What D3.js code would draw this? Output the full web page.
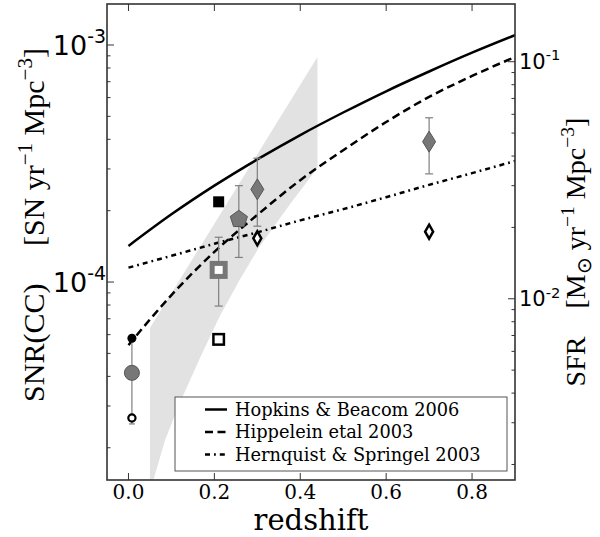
<!DOCTYPE html>
<html>
<head>
<meta charset="utf-8">
<script src="https://cdn.jsdelivr.net/npm/d3@7"></script>
<style>
  body { margin: 0; background: #fff; }
  svg { display: block; }
</style>
</head>
<body>
<svg id="chart" width="600" height="537"></svg>
<script>
// ---- model curves: core-collapse SN rate [SN / yr / Mpc^3] on a redshift grid ----
const redshiftGrid   = [0.0, 0.1, 0.2, 0.3, 0.4, 0.5, 0.6, 0.7, 0.8, 0.9];
const hopkinsBeacom  = [1.42e-4, 1.93e-4, 2.55e-4, 3.29e-4, 4.17e-4, 5.19e-4, 6.38e-4, 7.73e-4, 9.28e-4, 1.10e-3];
const hippelein      = [5.42e-5, 8.81e-5, 1.34e-4, 1.92e-4, 2.69e-4, 3.60e-4, 4.73e-4, 6.04e-4, 7.40e-4, 8.90e-4];
const hernquistSpr   = [1.15e-4, 1.29e-4, 1.45e-4, 1.62e-4, 1.82e-4, 2.03e-4, 2.28e-4, 2.57e-4, 2.88e-4, 3.24e-4];

// ---- shaded allowed region ----
const bandUpperZ = [0.05, 0.44];
const bandUpper  = [6.4e-5, 8.9e-4];
const bandLowerZ = [0.05, 0.058, 0.085, 0.12, 0.167, 0.213, 0.26, 0.306, 0.376, 0.44];
const bandLower  = [1.0e-5, 1.46e-5, 2.15e-5, 3.1e-5, 4.8e-5, 7.2e-5, 1.03e-4, 1.42e-4, 2.13e-4, 3.03e-4];

// ---- measurements ----
const localZ        = [0.008];
const localUpper    = [5.79e-5];   // filled circle
const localMid      = [4.14e-5];   // grey circle
const localLower    = [2.67e-5];   // open circle
const localErrLo    = [2.52e-5];

const squareZ       = [0.21];
const squareFilled  = [2.18e-4];
const squareGrey    = [1.125e-4];
const squareGreyLo  = [7.92e-5];
const squareGreyHi  = [1.545e-4];
const squareOpen    = [5.73e-5];

const pentagonZ     = [0.257];
const pentagonVal   = [1.84e-4];
const pentagonLo    = [1.27e-4];
const pentagonHi    = [2.55e-4];

const diamondZ      = [0.30, 0.70];
const diamondGrey   = [2.46e-4, 3.91e-4];
const diamondLo     = [1.72e-4, 2.86e-4];
const diamondHi     = [3.33e-4, 4.93e-4];
const diamondOpen   = [1.53e-4, 1.63e-4];

// ---- axes ----
const xTicks      = [0.0, 0.2, 0.4, 0.6, 0.8];
const leftMajor   = [1e-4, 1e-3];
const rightMajor  = [1e-2, 1e-1];
const sfrPerSn    = 1 / 0.0085;      // SFR [Msun/yr/Mpc^3] per SN rate unit
const legendNames = ["Hopkins & Beacom 2006", "Hippelein etal 2003", "Hernquist & Springel 2003"];

// ---------------------------------------------------------------------
const svg = d3.select("#chart");
const L = 107, R = 515, T = 4, B = 480;

const x  = d3.scaleLinear().domain([-0.05, 0.9]).range([L, R]);
const y  = d3.scaleLog().domain([1.462e-5, 1.489e-3]).range([B, T]);
const yR = d3.scaleLog().domain(y.domain().map(v => v * sfrPerSn)).range([B, T]);

svg.append("rect").attr("width", 600).attr("height", 537).attr("fill", "#fff");

svg.append("clipPath").attr("id", "plotClip")
  .append("rect").attr("x", L).attr("y", T).attr("width", R - L).attr("height", B - T);

const plot = svg.append("g").attr("clip-path", "url(#plotClip)");

// shaded region
const bandPts = bandUpperZ.map((z, i) => [x(z), y(bandUpper[i])])
  .concat(bandLowerZ.map((z, i) => [x(z), y(bandLower[i])]).reverse());
plot.append("path")
  .attr("d", "M" + bandPts.map(p => p.join(",")).join("L") + "Z")
  .attr("fill", "#e2e2e2");

// model curves
const line = d3.line().x((d, i) => x(redshiftGrid[i])).y(d => y(d)).curve(d3.curveMonotoneX);
const styles = [
  { data: hopkinsBeacom, dash: null },
  { data: hippelein,     dash: "8,4.5" },
  { data: hernquistSpr,  dash: "5,4,1.8,4" }
];
styles.forEach(s => {
  plot.append("path").attr("d", line(s.data))
    .attr("fill", "none").attr("stroke", "#000").attr("stroke-width", 2.5)
    .attr("stroke-dasharray", s.dash);
});

// error bars
const errColor = "#7f7f7f";
function errbar(z, lo, hi, cap) {
  const g = plot.append("g").attr("stroke", errColor).attr("stroke-width", 1.2);
  g.append("line").attr("x1", x(z)).attr("x2", x(z)).attr("y1", y(lo)).attr("y2", y(hi));
  if (cap) {
    [lo, hi].forEach(v => g.append("line")
      .attr("x1", x(z) - cap).attr("x2", x(z) + cap).attr("y1", y(v)).attr("y2", y(v)));
  }
}
errbar(localZ[0], localErrLo[0], localUpper[0], 3);
errbar(squareZ[0], squareGreyLo[0], squareGreyHi[0], 4);
errbar(pentagonZ[0], pentagonLo[0], pentagonHi[0], 4);
diamondZ.forEach((z, i) => errbar(z, diamondLo[i], diamondHi[i], 4));

const grey = "#777", greyEdge = "#555";

// local rates
plot.append("circle").attr("cx", x(localZ[0])).attr("cy", y(localMid[0])).attr("r", 7.5)
  .attr("fill", grey).attr("stroke", greyEdge).attr("stroke-width", 1);
plot.append("circle").attr("cx", x(localZ[0])).attr("cy", y(localUpper[0])).attr("r", 4.5)
  .attr("fill", "#000");
plot.append("circle").attr("cx", x(localZ[0])).attr("cy", y(localLower[0])).attr("r", 3.6)
  .attr("fill", "#fff").attr("stroke", "#000").attr("stroke-width", 2.2);

// squares
function square(z, v, side, fill, stroke, sw) {
  plot.append("rect").attr("x", x(z) - side / 2).attr("y", y(v) - side / 2)
    .attr("width", side).attr("height", side)
    .attr("fill", fill).attr("stroke", stroke).attr("stroke-width", sw);
}
square(squareZ[0], squareFilled[0], 11, "#000", "none", 0);
square(squareZ[0], squareGrey[0], 13, "#fff", grey, 5);
square(squareZ[0], squareOpen[0], 10.5, "#fff", "#000", 2.5);

// pentagon
const pent = d3.range(5).map(k => {
  const a = -Math.PI / 2 + k * 2 * Math.PI / 5;
  return [9 * Math.cos(a), 9 * Math.sin(a)];
});
plot.append("path")
  .attr("d", "M" + pent.map(p => p.join(",")).join("L") + "Z")
  .attr("transform", `translate(${x(pentagonZ[0])},${y(pentagonVal[0])})`)
  .attr("fill", grey).attr("stroke", greyEdge).attr("stroke-width", 1);

// diamonds
function diamond(z, v, hw, hh, fill, stroke, sw) {
  plot.append("path")
    .attr("d", `M0,${-hh}L${hw},0L0,${hh}L${-hw},0Z`)
    .attr("transform", `translate(${x(z)},${y(v)})`)
    .attr("fill", fill).attr("stroke", stroke).attr("stroke-width", sw);
}
diamondZ.forEach((z, i) => diamond(z, diamondGrey[i], 6.5, 10.5, grey, greyEdge, 1));
diamondZ.forEach((z, i) => diamond(z, diamondOpen[i], 4, 7, "#fff", "#000", 2.5));

// ---- frame and ticks ----
const frame = "#333";
function minorTicks(scale) {
  const [a, b] = scale.domain();
  const out = [];
  for (let e = Math.floor(Math.log10(a)); e <= Math.ceil(Math.log10(b)); e++) {
    for (let m = 1; m <= 9; m++) {
      const v = m * Math.pow(10, e);
      if (v >= a && v <= b) out.push({ v, major: m === 1 });
    }
  }
  return out;
}
const tg = svg.append("g").attr("stroke", frame).attr("stroke-width", 1);
minorTicks(y).forEach(t => {
  const len = t.major ? 7 : 3.5;
  tg.append("line").attr("x1", L).attr("x2", L + len).attr("y1", y(t.v)).attr("y2", y(t.v));
});
minorTicks(yR).forEach(t => {
  const len = t.major ? 7 : 3.5;
  tg.append("line").attr("x1", R).attr("x2", R - len).attr("y1", yR(t.v)).attr("y2", yR(t.v));
});
xTicks.forEach(v => {
  tg.append("line").attr("x1", x(v)).attr("x2", x(v)).attr("y1", B).attr("y2", B - 7);
  tg.append("line").attr("x1", x(v)).attr("x2", x(v)).attr("y1", T).attr("y2", T + 7);
});
svg.append("rect").attr("x", L).attr("y", T).attr("width", R - L).attr("height", B - T)
  .attr("fill", "none").attr("stroke", frame).attr("stroke-width", 1.6);

// x tick labels
svg.append("g").selectAll("text").data(xTicks).join("text")
  .attr("x", d => x(d)).attr("y", 499)
  .attr("text-anchor", "middle")
  .style("font-family", "DejaVu Serif").style("font-size", "20px")
  .text(d => d3.format(".1f")(d));

svg.append("text").attr("x", (L + R) / 2).attr("y", 530)
  .attr("text-anchor", "middle")
  .style("font-family", "DejaVu Serif").style("font-size", "29px")
  .text("redshift");

// power-of-ten labels
function powLabel(xPos, yPos, exp, size, anchor) {
  const t = svg.append("text").attr("x", xPos).attr("y", yPos + size * 0.36)
    .attr("text-anchor", anchor)
    .style("font-family", "DejaVu Sans").style("font-size", size + "px");
  t.append("tspan").text("10");
  t.append("tspan").attr("dy", -size * 0.42).style("font-size", (size * 0.7) + "px").text("-" + exp);
}
leftMajor.forEach(v => powLabel(106, y(v), -Math.log10(v), 27, "end"));
rightMajor.forEach(v => powLabel(519, yR(v), -Math.log10(v), 21, "start"));

// axis titles
function title(cx, cy, parts, size) {
  const t = svg.append("text")
    .attr("transform", `translate(${cx},${cy}) rotate(-90)`)
    .attr("text-anchor", "middle")
    .style("font-family", "Liberation Serif").style("font-size", size + "px");
  parts.forEach(p => {
    const s = t.append("tspan").text(p.t);
    if (p.sup) s.attr("dy", -size * 0.4).style("font-size", (size * 0.7) + "px");
    if (p.sub) s.attr("dy", size * 0.2).style("font-size", (size * 0.7) + "px");
    if (p.back) s.attr("dy", p.back * size);
  });
}
title(44, 225, [
  { t: "SNR(CC)\u2003\u00a0[SN yr" }, { t: "\u22121", sup: true },
  { t: "\u00a0Mpc", back: 0.4 }, { t: "\u22123", sup: true }, { t: "]", back: 0.4 }
], 30);
title(585, 252, [
  { t: "SFR\u2003[M" }, { t: "\u2299", sub: true },
  { t: "\u00a0yr", back: -0.2 }, { t: "\u22121", sup: true },
  { t: "\u00a0Mpc", back: 0.4 }, { t: "\u22123", sup: true }, { t: "]", back: 0.4 }
], 28);

// ---- legend ----
const lg = svg.append("g");
lg.append("rect").attr("x", 175).attr("y", 397).attr("width", 332).attr("height", 74)
  .attr("fill", "#fff").attr("stroke", "#555").attr("stroke-width", 1);
styles.forEach((s, i) => {
  const cy = 409.5 + i * 22.5;
  lg.append("line").attr("x1", 205).attr("x2", 227).attr("y1", cy).attr("y2", cy)
    .attr("stroke", "#000").attr("stroke-width", 2.5).attr("stroke-dasharray", s.dash);
  lg.append("text").attr("x", 235).attr("y", cy + 6)
    .style("font-family", "DejaVu Serif").style("font-size", "17.8px")
    .text(legendNames[i]);
});
</script>
</body>
</html>
